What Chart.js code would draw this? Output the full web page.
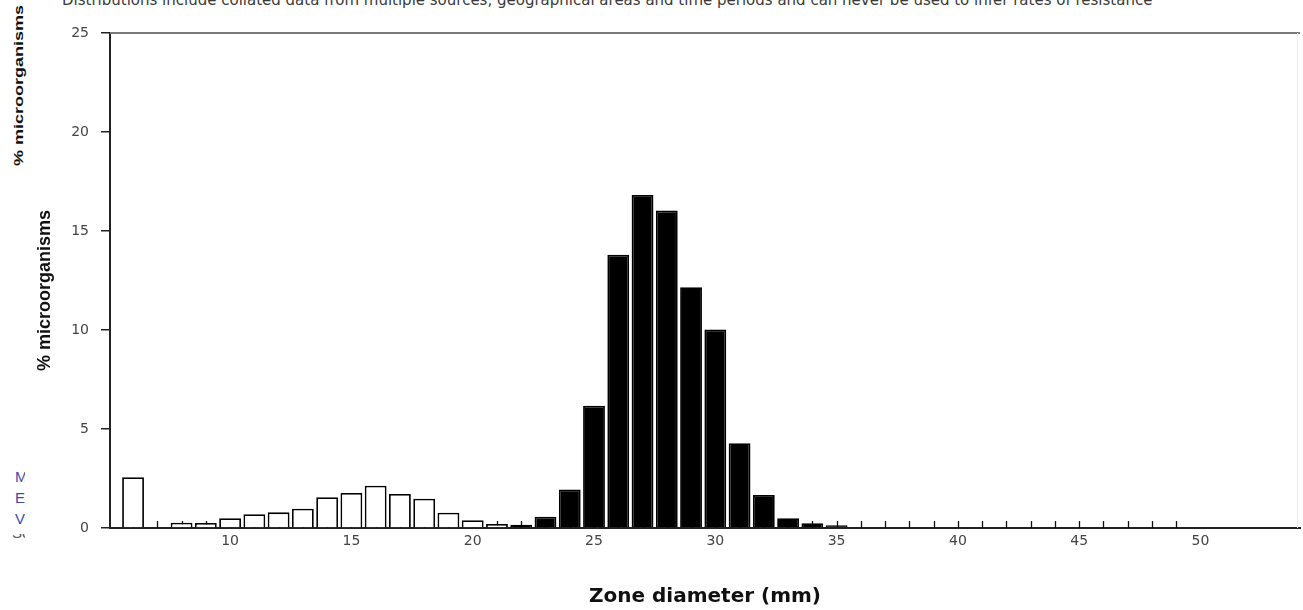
<!DOCTYPE html>
<html>
<head>
<meta charset="utf-8">
<script src="https://cdn.jsdelivr.net/npm/chart.js@4.4.0/dist/chart.umd.min.js"></script>
<style>
  html, body { margin: 0; padding: 0; background: #fff; overflow: hidden; }
  body { width: 1303px; height: 610px; position: relative; }
  #chart { position: absolute; left: 0; top: 0; }
  #note {
    position: absolute; left: 62px; top: -8px; white-space: nowrap;
    font: 15px "DejaVu Sans", Verdana, sans-serif; color: #3a3a3a; line-height: 17px;
  }
  #ghost {
    position: absolute; left: 12px; top: 166px; white-space: nowrap;
    font: bold 18px "Liberation Sans", Arial, sans-serif; line-height: 18px; color: #111;
    transform-origin: 0 0; transform: rotate(-90deg) scaleY(0.72);
  }
  #side {
    position: absolute; left: 15px; top: 466px; width: 10px; overflow: hidden;
    font: 15px "Liberation Sans", Arial, sans-serif; line-height: 21px; color: #3f4aa8;
  }
  #cut {
    position: absolute; left: 12px; top: 534px; width: 13px; height: 5px; overflow: hidden;
  }
  #cut span {
    position: absolute; left: 0; top: -9px;
    font: 15px "Liberation Sans", Arial, sans-serif; line-height: 16px; color: #556;
  }
</style>
</head>
<body>
<div id="note">Distributions include collated data from multiple sources, geographical areas and time periods and can never be used to infer rates of resistance</div>
<div id="ghost">% microorganisms</div>
<div id="side">M<br>E<br>V</div>
<div id="cut"><span>Sc</span></div>
<canvas id="chart" width="1303" height="610"></canvas>
<script>
// zone diameters (mm) and % of microorganisms
var zoneDiameters = [6, 7, 8, 9, 10, 11, 12, 13, 14, 15, 16, 17, 18, 19, 20,
                     21, 22, 23, 24, 25, 26, 27, 28, 29, 30, 31, 32, 33, 34, 35];
var percentages = [2.56, 0, 0.27, 0.25, 0.49, 0.7, 0.79, 0.97, 1.55, 1.77, 2.14, 1.72, 1.48, 0.77, 0.39,
                   0.2, 0.17, 0.57, 1.95, 6.18, 13.8, 16.82, 16.03, 12.16, 10.03, 4.28, 1.67, 0.49, 0.24, 0.14];
// bars from this diameter on are filled black
var breakpointMm = 22;
var xTickValues = [10, 15, 20, 25, 30, 35, 40, 45, 50];
var yTickValues = [0, 5, 10, 15, 20, 25];
var minorTickFrom = 6, minorTickTo = 49;

var points = zoneDiameters.map((d, i) => ({ x: d, y: percentages[i] }));

// small inner ticks on the x axis + the grey top frame line
const frame = {
  id: 'frame',
  beforeDatasetsDraw(chart) {
    const { ctx, chartArea: a, scales: { x } } = chart;
    ctx.save();
    ctx.strokeStyle = '#111';
    ctx.lineWidth = 1.3;
    for (let v = minorTickFrom; v <= minorTickTo; v++) {
      const px = Math.round(x.getPixelForValue(v)) + 0.5;
      ctx.beginPath();
      ctx.moveTo(px, a.bottom);
      ctx.lineTo(px, a.bottom - 7);
      ctx.stroke();
    }
    ctx.strokeStyle = '#7a7a7a';
    ctx.lineWidth = 2.2;
    ctx.beginPath();
    ctx.moveTo(a.left, a.top);
    ctx.lineTo(a.right, a.top);
    ctx.stroke();
    ctx.strokeStyle = '#ececec';
    ctx.lineWidth = 1;
    ctx.beginPath();
    ctx.moveTo(a.right - 2.5, a.top);
    ctx.lineTo(a.right - 2.5, a.bottom);
    ctx.stroke();
    ctx.restore();
  }
};

var ctx = document.getElementById('chart').getContext('2d');
var myChart = new Chart(ctx, {
  type: 'bar',
  data: {
    datasets: [{
      data: points,
      backgroundColor: c => (c.raw && c.raw.x >= breakpointMm) ? '#000' : '#fff',
      borderColor: '#000',
      borderWidth: 1.8,
      barPercentage: 0.9,
      categoryPercentage: 1
    }]
  },
  options: {
    responsive: false,
    animation: false,
    layout: { padding: { top: 33, right: 3, left: 0, bottom: 0 } },
    plugins: {
      legend: { display: false },
      tooltip: { enabled: false }
    },
    scales: {
      x: {
        type: 'linear',
        offset: false,
        min: 5.05,
        max: 54.1,
        afterBuildTicks: s => { s.ticks = xTickValues.map(v => ({ value: v })); },
        afterFit: s => { s.height = 82; },
        grid: { display: false, drawTicks: false, offset: false },
        border: { display: true, color: '#222', width: 2 },
        ticks: {
          font: { family: 'DejaVu Sans', size: 14 },
          color: '#444',
          padding: 5,
          maxRotation: 0
        },
        title: {
          display: true,
          text: 'Zone diameter (mm)',
          font: { family: 'DejaVu Sans', size: 20, weight: 'bold' },
          color: '#111',
          padding: { top: 0, bottom: 1 }
        }
      },
      y: {
        min: 0,
        max: 25,
        afterBuildTicks: s => { s.ticks = yTickValues.map(v => ({ value: v })); },
        afterFit: s => { s.width = 110; },
        grid: { display: true, drawOnChartArea: false, drawTicks: true, tickLength: 9, color: '#222', lineWidth: 1.5 },
        border: { display: true, color: '#222', width: 2 },
        ticks: {
          font: { family: 'DejaVu Sans', size: 14 },
          color: '#444',
          padding: 12
        },
        title: {
          display: true,
          // trailing spaces nudge the rotated label down a little, as in the source image
          text: '% microorganisms    ',
          font: { family: 'Liberation Sans', size: 18, weight: 'bold' },
          color: '#111',
          padding: { top: 34, bottom: 0 }
        }
      }
    }
  },
  plugins: [frame]
});
</script>
</body>
</html>
